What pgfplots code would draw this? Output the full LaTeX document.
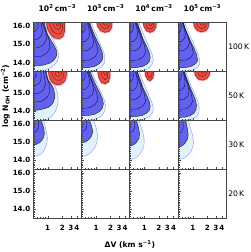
\documentclass[border=0pt]{standalone}
\usepackage{fontspec}
\setmainfont{DejaVu Sans}
\usepackage{pgfplots}
\pgfplotsset{compat=1.18}
\usepgfplotslibrary{groupplots}
\definecolor{lbfill}{RGB}{226,242,250}
\definecolor{lbedge}{RGB}{140,150,255}
\definecolor{dbfill}{RGB}{98,98,238}
\definecolor{navyl}{RGB}{20,20,90}
\definecolor{pkfill}{RGB}{252,205,205}
\definecolor{pkedge}{RGB}{245,150,150}
\definecolor{rdfill}{RGB}{236,78,68}
\definecolor{rdline}{RGB}{110,20,20}
\definecolor{framec}{RGB}{70,70,70}
\pgfplotsset{
 lb/.style={fill=lbfill, draw=lbedge, line width=0.4pt},
 db/.style={fill=dbfill, draw=black!85, line width=0.45pt},
 il/.style={draw=navyl, line width=0.4pt},
 pk/.style={fill=pkfill, draw=pkedge, line width=0.4pt},
 rd/.style={fill=rdfill, draw=rdline, line width=0.4pt},
 rl/.style={draw=rdline, line width=0.4pt},
 rowlab/.style={after end axis/.append code={\node[anchor=west,font=\fontsize{7.5}{8}\selectfont, inner sep=1.5pt] at (rel axis cs:1,0.5) {#1};}},
}
\begin{document}
\begin{tikzpicture}
\begin{groupplot}[
 group style={group size=4 by 4, horizontal sep=0pt, vertical sep=0pt, xticklabels at=edge bottom, yticklabels at=edge left},
 width=47.5pt, height=48pt, scale only axis,
 xmode=log, xmin=0.5, xmax=5, ymin=13.5, ymax=16.2,
 xtick={1,2,3,4}, xticklabels={1,2,3,4}, minor xtick={0.6,0.7,0.8,0.9},
 ytick={14,15,16}, yticklabels={14.0,15.0,16.0},
 minor ytick={13.6,13.7,13.8,13.9,14.1,14.2,14.3,14.4,14.5,14.6,14.7,14.8,14.9,15.1,15.2,15.3,15.4,15.5,15.6,15.7,15.8,15.9,16.1},
 tick align=inside, xtick pos=bottom, ytick pos=left,
 major tick length=2.5pt, minor tick length=1.5pt,
 axis on top, axis line style={framec, line width=0.7pt},
 every tick/.style={framec, line width=0.4pt},
 tick label style={font=\bfseries\fontsize{7}{8}\selectfont},
 xticklabel style={yshift=-3.5pt},
 yticklabel style={xshift=0.8pt},
 /pgf/number format/assume math mode=true,
 no markers,
 title style={font=\bfseries\fontsize{7.5}{8}\selectfont, inner sep=4.5pt},
 ylabel style={font=\bfseries\fontsize{7.5}{8}\selectfont, inner sep=1pt, yshift=-1.5pt},
 xlabel style={font=\bfseries\fontsize{7.5}{8}\selectfont},
]
% ---------- Row 1: 100 K ----------
\nextgroupplot[title={10\textsuperscript{2}\,cm\textsuperscript{−3}}]
\addplot[lb] coordinates {(0.5,13.5)(0.669,13.52)(0.895,13.58)(1.140,13.70)(1.384,13.87)(1.600,14.10)(1.680,14.32)(1.639,14.61)(1.452,14.95)(1.256,15.29)(1.086,15.69)(0.986,16.03)(0.939,16.2)(0.5,16.2)} -- cycle;
\addplot[db] coordinates {(0.5,13.81)(0.669,13.82)(0.853,13.87)(1.086,13.95)(1.318,14.10)(1.488,14.30)(1.547,14.49)(1.488,14.72)(1.318,14.98)(1.140,15.26)(0.986,15.57)(0.895,15.92)(0.853,16.2)(0.5,16.2)} -- cycle;
\addplot[il] coordinates {(0.5,15.69)(0.565,15.75)(0.622,15.89)(0.637,16.06)(0.622,16.2)};
\addplot[il] coordinates {(0.5,15.23)(0.607,15.28)(0.720,15.43)(0.774,15.69)(0.755,15.97)(0.720,16.2)};
\addplot[il] coordinates {(0.5,14.78)(0.669,14.84)(0.833,15.01)(0.939,15.29)(0.917,15.69)(0.833,15.97)(0.774,16.2)};
\addplot[il] coordinates {(0.5,14.30)(0.737,14.34)(0.962,14.52)(1.113,14.81)(1.086,15.18)(0.962,15.57)(0.853,15.94)(0.812,16.2)};
\addplot[pk] coordinates {(0.917,16.2)(0.962,15.83)(1.113,15.52)(1.384,15.27)(1.806,15.25)(2.192,15.43)(2.358,15.75)(2.358,16.2)} -- cycle;
\addplot[rd] coordinates {(0.939,16.2)(0.986,15.86)(1.140,15.57)(1.384,15.35)(1.763,15.32)(2.089,15.46)(2.246,15.75)(2.246,16.2)} -- cycle;
\addplot[rl] coordinates {(1.086,16.2)(1.197,15.80)(1.524,15.57)(1.850,15.60)(2.039,15.86)(2.039,16.2)};
\addplot[rl] coordinates {(1.256,16.2)(1.384,15.92)(1.680,15.80)(1.850,15.97)(1.850,16.2)};
\addplot[rl] coordinates {(1.452,16.2)(1.562,16.03)(1.721,16.06)(1.721,16.2)};

\nextgroupplot[title={10\textsuperscript{3}\,cm\textsuperscript{−3}}]
\addplot[lb] coordinates {(0.5,13.5)(0.737,13.51)(1.035,13.59)(1.318,13.76)(1.488,13.98)(1.524,14.27)(1.452,14.55)(1.256,14.95)(1.060,15.40)(0.917,15.80)(0.833,16.09)(0.793,16.2)(0.5,16.2)} -- cycle;
\addplot[db] coordinates {(0.5,13.70)(0.702,13.72)(0.939,13.78)(1.168,13.93)(1.338,14.13)(1.384,14.35)(1.318,14.61)(1.168,14.95)(0.986,15.35)(0.853,15.75)(0.774,16.03)(0.737,16.2)(0.5,16.2)} -- cycle;
\addplot[il] coordinates {(0.5,15.63)(0.551,15.69)(0.593,15.83)(0.598,16.03)(0.587,16.2)};
\addplot[il] coordinates {(0.5,15.12)(0.607,15.18)(0.702,15.35)(0.737,15.57)(0.702,15.92)(0.653,16.2)};
\addplot[il] coordinates {(0.5,14.61)(0.669,14.67)(0.833,14.86)(0.895,15.12)(0.833,15.52)(0.737,15.92)(0.685,16.2)};
\addplot[il] coordinates {(0.5,14.10)(0.737,14.14)(0.962,14.32)(1.086,14.58)(1.035,14.95)(0.895,15.40)(0.774,15.86)(0.720,16.2)};
\addplot[pk] coordinates {(1.010,16.2)(1.060,15.94)(1.240,15.70)(1.524,15.61)(1.896,15.67)(2.170,15.89)(2.246,16.2)} -- cycle;
\addplot[rd] coordinates {(1.035,16.2)(1.086,15.97)(1.256,15.75)(1.524,15.66)(1.850,15.72)(2.089,15.92)(2.140,16.2)} -- cycle;
\addplot[rl] coordinates {(1.197,16.2)(1.287,15.97)(1.524,15.86)(1.763,15.92)(1.896,16.09)(1.896,16.2)};
\addplot[rl] coordinates {(1.384,16.2)(1.488,16.06)(1.680,16.06)(1.721,16.2)};

\nextgroupplot[title={10\textsuperscript{4}\,cm\textsuperscript{−3}}]
\addplot[lb] coordinates {(0.5,13.5)(0.737,13.51)(1.010,13.57)(1.287,13.73)(1.474,13.93)(1.524,14.15)(1.438,14.47)(1.226,14.89)(1.035,15.35)(0.895,15.75)(0.812,16.06)(0.774,16.2)(0.5,16.2)} -- cycle;
\addplot[db] coordinates {(0.5,13.70)(0.702,13.72)(0.917,13.78)(1.113,13.90)(1.274,14.07)(1.318,14.27)(1.256,14.55)(1.113,14.89)(0.939,15.29)(0.833,15.69)(0.755,16.00)(0.720,16.2)(0.5,16.2)} -- cycle;
\addplot[il] coordinates {(0.5,15.63)(0.551,15.69)(0.587,15.83)(0.593,16.03)(0.578,16.2)};
\addplot[il] coordinates {(0.5,15.12)(0.607,15.18)(0.695,15.35)(0.727,15.57)(0.692,15.92)(0.646,16.2)};
\addplot[il] coordinates {(0.5,14.61)(0.669,14.67)(0.812,14.84)(0.874,15.09)(0.812,15.52)(0.720,15.92)(0.669,16.2)};
\addplot[il] coordinates {(0.5,14.10)(0.737,14.14)(0.939,14.30)(1.060,14.55)(1.000,14.95)(0.874,15.40)(0.766,15.86)(0.702,16.2)};
\addplot[pk] coordinates {(0.917,16.2)(0.962,15.94)(1.097,15.71)(1.318,15.61)(1.600,15.70)(1.781,15.92)(1.850,16.2)} -- cycle;
\addplot[rd] coordinates {(0.939,16.2)(0.986,15.97)(1.113,15.75)(1.318,15.66)(1.562,15.75)(1.721,15.94)(1.763,16.2)} -- cycle;
\addplot[rl] coordinates {(1.060,16.2)(1.140,15.94)(1.318,15.83)(1.488,15.92)(1.562,16.2)};
\addplot[rl] coordinates {(1.197,16.2)(1.287,16.03)(1.418,16.06)(1.452,16.2)};

\nextgroupplot[title={10\textsuperscript{5}\,cm\textsuperscript{−3}}, rowlab={100\,K}]
\addplot[lb] coordinates {(0.5,13.5)(0.737,13.51)(0.986,13.57)(1.226,13.70)(1.370,13.87)(1.404,14.07)(1.338,14.35)(1.168,14.75)(0.986,15.18)(0.833,15.60)(0.737,15.97)(0.685,16.2)(0.5,16.2)} -- cycle;
\addplot[db] coordinates {(0.5,13.70)(0.702,13.72)(0.895,13.77)(1.086,13.88)(1.220,14.01)(1.256,14.15)(1.197,14.44)(1.060,14.78)(0.895,15.18)(0.774,15.57)(0.685,15.92)(0.637,16.2)(0.5,16.2)} -- cycle;
\addplot[il] coordinates {(0.5,15.63)(0.546,15.69)(0.573,15.83)(0.578,16.03)(0.565,16.2)};
\addplot[il] coordinates {(0.5,15.12)(0.593,15.18)(0.675,15.35)(0.702,15.57)(0.663,15.92)(0.607,16.2)};
\addplot[il] coordinates {(0.5,14.61)(0.653,14.67)(0.793,14.84)(0.853,15.09)(0.774,15.52)(0.669,15.92)(0.622,16.2)};
\addplot[il] coordinates {(0.5,14.10)(0.720,14.14)(0.917,14.27)(1.024,14.50)(0.962,14.89)(0.833,15.35)(0.702,15.80)(0.637,16.2)};
\addplot[pk] coordinates {(1.010,16.2)(1.060,15.94)(1.240,15.71)(1.524,15.64)(1.896,15.70)(2.170,15.92)(2.246,16.2)} -- cycle;
\addplot[rd] coordinates {(1.035,16.2)(1.086,15.97)(1.256,15.75)(1.524,15.69)(1.850,15.75)(2.089,15.94)(2.140,16.2)} -- cycle;
\addplot[rl] coordinates {(1.197,16.2)(1.287,15.97)(1.524,15.87)(1.763,15.94)(1.896,16.11)(1.896,16.2)};
\addplot[rl] coordinates {(1.384,16.2)(1.488,16.06)(1.680,16.08)(1.721,16.2)};

% ---------- Row 2: 50 K ----------
\nextgroupplot[ylabel={log N\textsubscript{OH} (cm\textsuperscript{−2})}]
\addplot[lb] coordinates {(0.5,13.5)(0.737,13.51)(1.020,13.57)(1.256,13.76)(1.452,14.01)(1.600,14.32)(1.656,14.67)(1.600,15.01)(1.384,15.46)(1.197,15.80)(1.060,16.09)(1.035,16.2)(0.5,16.2)} -- cycle;
\addplot[db] coordinates {(0.5,14.04)(0.628,14.07)(0.812,14.13)(1.020,14.21)(1.197,14.35)(1.299,14.49)(1.384,14.72)(1.404,14.89)(1.351,15.12)(1.299,15.29)(1.140,15.55)(1.020,15.75)(0.962,16.00)(0.939,16.2)(0.5,16.2)} -- cycle;
\addplot[il] coordinates {(0.5,15.80)(0.551,15.86)(0.593,16.00)(0.593,16.2)};
\addplot[il] coordinates {(0.5,15.40)(0.607,15.46)(0.702,15.63)(0.737,15.89)(0.720,16.2)};
\addplot[il] coordinates {(0.5,14.95)(0.669,15.01)(0.833,15.21)(0.895,15.52)(0.853,15.92)(0.812,16.2)};
\addplot[il] coordinates {(0.5,14.49)(0.737,14.55)(0.962,14.75)(1.113,15.06)(1.086,15.46)(0.962,15.86)(0.895,16.2)};
\addplot[pk] coordinates {(1.010,16.2)(1.060,15.83)(1.197,15.56)(1.452,15.43)(1.896,15.43)(2.279,15.60)(2.537,15.89)(2.600,16.2)} -- cycle;
\addplot[rd] coordinates {(1.035,16.2)(1.086,15.86)(1.226,15.60)(1.452,15.49)(1.850,15.49)(2.192,15.63)(2.416,15.92)(2.475,16.2)} -- cycle;
\addplot[rl] coordinates {(1.197,16.2)(1.287,15.92)(1.524,15.72)(1.850,15.72)(2.089,15.89)(2.192,16.2)};
\addplot[rl] coordinates {(1.384,16.2)(1.488,15.97)(1.721,15.92)(1.896,16.03)(1.942,16.2)};
\addplot[rl] coordinates {(1.600,16.2)(1.680,16.11)(1.806,16.2)};

\nextgroupplot
\addplot[lb] coordinates {(0.5,13.5)(0.737,13.51)(1.035,13.59)(1.351,13.78)(1.524,14.04)(1.562,14.32)(1.488,14.61)(1.287,15.01)(1.086,15.43)(0.939,15.80)(0.853,16.09)(0.812,16.2)(0.5,16.2)} -- cycle;
\addplot[db] coordinates {(0.5,13.76)(0.702,13.77)(0.939,13.84)(1.168,13.98)(1.351,14.18)(1.418,14.41)(1.351,14.67)(1.197,15.01)(1.010,15.40)(0.874,15.77)(0.793,16.03)(0.755,16.2)(0.5,16.2)} -- cycle;
\addplot[il] coordinates {(0.5,15.66)(0.551,15.72)(0.593,15.86)(0.598,16.03)(0.587,16.2)};
\addplot[il] coordinates {(0.5,15.18)(0.607,15.23)(0.702,15.40)(0.737,15.60)(0.702,15.94)(0.653,16.2)};
\addplot[il] coordinates {(0.5,14.67)(0.669,14.72)(0.833,14.92)(0.895,15.18)(0.833,15.55)(0.737,15.92)(0.685,16.2)};
\addplot[il] coordinates {(0.5,14.15)(0.737,14.20)(0.962,14.38)(1.086,14.64)(1.035,15.01)(0.895,15.43)(0.774,15.86)(0.720,16.2)};
\addplot[pk] coordinates {(1.060,16.2)(1.113,15.83)(1.268,15.56)(1.524,15.47)(1.869,15.60)(2.019,15.92)(2.039,16.2)} -- cycle;
\addplot[rd] coordinates {(1.086,16.2)(1.140,15.86)(1.287,15.60)(1.524,15.52)(1.806,15.63)(1.942,15.92)(1.942,16.2)} -- cycle;
\addplot[rl] coordinates {(1.256,16.2)(1.318,15.92)(1.524,15.75)(1.721,15.86)(1.763,16.2)};
\addplot[rl] coordinates {(1.418,16.2)(1.488,16.00)(1.639,16.03)(1.664,16.2)};

\nextgroupplot
\addplot[lb] coordinates {(0.5,13.5)(0.737,13.51)(1.010,13.57)(1.287,13.73)(1.474,13.93)(1.524,14.15)(1.438,14.47)(1.226,14.89)(1.035,15.35)(0.895,15.75)(0.812,16.06)(0.774,16.2)(0.5,16.2)} -- cycle;
\addplot[db] coordinates {(0.5,13.70)(0.702,13.72)(0.917,13.78)(1.113,13.90)(1.274,14.07)(1.318,14.27)(1.256,14.55)(1.113,14.89)(0.939,15.29)(0.833,15.69)(0.755,16.00)(0.720,16.2)(0.5,16.2)} -- cycle;
\addplot[il] coordinates {(0.5,15.63)(0.551,15.69)(0.587,15.83)(0.593,16.03)(0.578,16.2)};
\addplot[il] coordinates {(0.5,15.12)(0.607,15.18)(0.695,15.35)(0.727,15.57)(0.692,15.92)(0.646,16.2)};
\addplot[il] coordinates {(0.5,14.61)(0.669,14.67)(0.812,14.84)(0.874,15.09)(0.812,15.52)(0.720,15.92)(0.669,16.2)};
\addplot[il] coordinates {(0.5,14.10)(0.737,14.14)(0.939,14.30)(1.060,14.55)(1.000,14.95)(0.874,15.40)(0.766,15.86)(0.702,16.2)};
\addplot[pk] coordinates {(1.010,16.2)(1.035,15.96)(1.151,15.70)(1.318,15.64)(1.524,15.80)(1.616,16.06)(1.624,16.2)} -- cycle;
\addplot[rd] coordinates {(1.035,16.2)(1.060,15.97)(1.168,15.75)(1.318,15.69)(1.488,15.83)(1.562,16.09)(1.562,16.2)} -- cycle;
\addplot[rl] coordinates {(1.140,16.2)(1.197,15.94)(1.318,15.86)(1.418,15.97)(1.452,16.2)};

\nextgroupplot[rowlab={50\,K}]
\addplot[lb] coordinates {(0.5,13.5)(0.737,13.51)(0.986,13.57)(1.197,13.70)(1.338,13.93)(1.364,14.21)(1.287,14.52)(1.113,14.92)(0.939,15.35)(0.833,15.72)(0.755,16.03)(0.720,16.2)(0.5,16.2)} -- cycle;
\addplot[db] coordinates {(0.5,13.66)(0.702,13.68)(0.895,13.76)(1.060,13.90)(1.168,14.10)(1.197,14.32)(1.140,14.61)(1.010,14.95)(0.874,15.35)(0.774,15.72)(0.702,16.03)(0.679,16.2)(0.5,16.2)} -- cycle;
\addplot[il] coordinates {(0.5,15.63)(0.546,15.69)(0.573,15.83)(0.578,16.03)(0.570,16.2)};
\addplot[il] coordinates {(0.5,15.12)(0.593,15.18)(0.669,15.35)(0.695,15.57)(0.669,15.92)(0.628,16.2)};
\addplot[il] coordinates {(0.5,14.61)(0.653,14.67)(0.793,14.84)(0.840,15.09)(0.774,15.52)(0.685,15.92)(0.646,16.2)};
\addplot[il] coordinates {(0.5,14.10)(0.720,14.14)(0.895,14.30)(0.986,14.55)(0.939,14.95)(0.824,15.40)(0.720,15.86)(0.669,16.2)};
\addplot[pk] coordinates {(1.060,16.2)(1.113,15.94)(1.299,15.73)(1.600,15.67)(1.990,15.76)(2.269,15.97)(2.336,16.2)} -- cycle;
\addplot[rd] coordinates {(1.086,16.2)(1.140,15.97)(1.318,15.77)(1.600,15.72)(1.942,15.80)(2.192,16.00)(2.246,16.2)} -- cycle;
\addplot[rl] coordinates {(1.256,16.2)(1.351,16.00)(1.600,15.92)(1.850,16.00)(1.942,16.2)};
\addplot[rl] coordinates {(1.452,16.2)(1.562,16.09)(1.721,16.11)(1.763,16.2)};

% ---------- Row 3: 30 K ----------
\nextgroupplot
\addplot[lb] coordinates {(0.5,14.21)(0.607,14.24)(0.737,14.35)(0.874,14.61)(0.962,14.92)(0.986,15.21)(0.939,15.57)(0.874,15.92)(0.833,16.2)(0.5,16.2)} -- cycle;
\addplot[db] coordinates {(0.5,14.84)(0.607,14.89)(0.720,15.03)(0.812,15.23)(0.853,15.46)(0.833,15.75)(0.774,16.00)(0.737,16.2)(0.5,16.2)} -- cycle;
\addplot[il] coordinates {(0.5,15.52)(0.578,15.57)(0.637,15.75)(0.653,15.97)(0.637,16.2)};

\nextgroupplot
\addplot[lb] coordinates {(0.5,14.21)(0.607,14.24)(0.755,14.38)(0.917,14.64)(1.035,14.95)(1.086,15.29)(1.035,15.69)(0.939,16.03)(0.895,16.2)(0.5,16.2)} -- cycle;
\addplot[db] coordinates {(0.5,14.95)(0.607,15.01)(0.720,15.15)(0.812,15.35)(0.853,15.57)(0.812,15.86)(0.755,16.09)(0.737,16.2)(0.5,16.2)} -- cycle;
\addplot[il] coordinates {(0.5,15.57)(0.578,15.63)(0.637,15.80)(0.646,16.03)(0.637,16.2)};

\nextgroupplot
\addplot[lb] coordinates {(0.5,14.04)(0.607,14.07)(0.737,14.21)(0.874,14.47)(0.976,14.78)(0.995,15.09)(0.939,15.52)(0.833,15.92)(0.774,16.2)(0.5,16.2)} -- cycle;
\addplot[db] coordinates {(0.5,14.78)(0.593,14.84)(0.685,14.98)(0.774,15.21)(0.793,15.46)(0.755,15.80)(0.702,16.09)(0.685,16.2)(0.5,16.2)} -- cycle;
\addplot[il] coordinates {(0.5,15.52)(0.565,15.57)(0.622,15.75)(0.637,15.97)(0.622,16.2)};

\nextgroupplot[rowlab={30\,K}]
\addplot[lb] coordinates {(0.5,14.04)(0.607,14.07)(0.755,14.21)(0.917,14.47)(1.020,14.78)(1.035,15.06)(0.976,15.46)(0.874,15.86)(0.812,16.2)(0.5,16.2)} -- cycle;
\addplot[db] coordinates {(0.5,14.72)(0.593,14.78)(0.685,14.92)(0.774,15.15)(0.804,15.40)(0.774,15.75)(0.737,16.03)(0.720,16.2)(0.5,16.2)} -- cycle;
\addplot[il] coordinates {(0.5,15.46)(0.565,15.52)(0.622,15.69)(0.637,15.94)(0.622,16.2)};

% ---------- Row 4: 20 K ----------
\nextgroupplot
\nextgroupplot[xlabel={ΔV (km s\textsuperscript{−1})}, xlabel style={at={(ticklabel cs:1)}, anchor=north, yshift=-3pt}]
\nextgroupplot
\nextgroupplot[rowlab={20\,K}]
\end{groupplot}
\end{tikzpicture}
\end{document}
